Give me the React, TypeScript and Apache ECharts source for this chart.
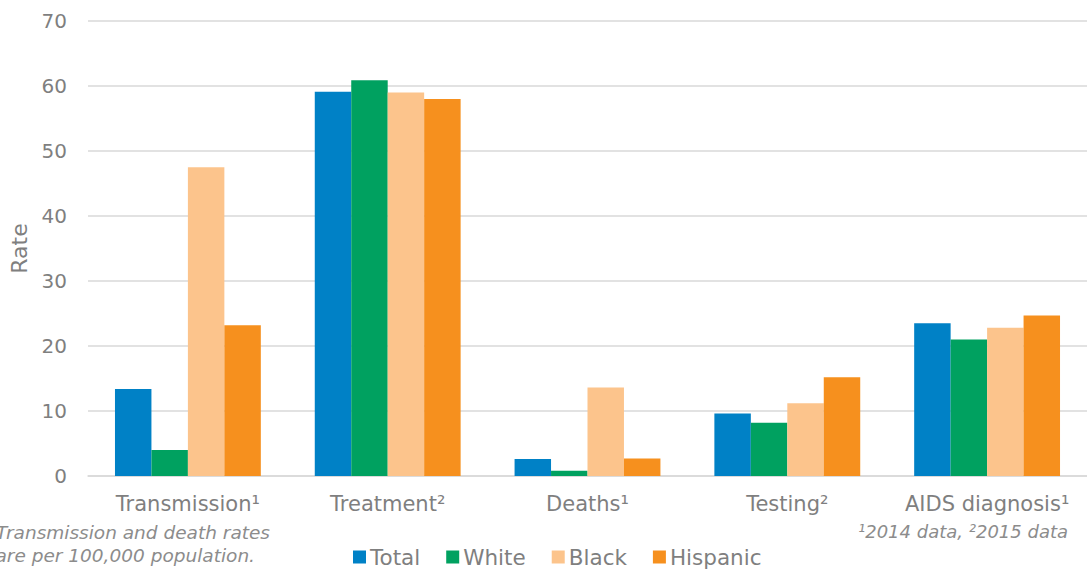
import React, { useEffect, useRef } from "react";
import * as echarts from "echarts";

const categories = ["Transmission¹", "Treatment²", "Deaths¹", "Testing²", "AIDS diagnosis¹"];
const seriesNames = ["Total", "White", "Black", "Hispanic"];
const totalValues = [13.4, 59.1, 2.6, 9.6, 23.5];
const whiteValues = [4.0, 60.9, 0.8, 8.2, 21.0];
const blackValues = [47.5, 59.0, 13.6, 11.2, 22.8];
const hispanicValues = [23.2, 58.0, 2.7, 15.2, 24.7];
const colors = ["#0081C6", "#00A160", "#FCC48C", "#F6901E"];
const yTicks = { min: 0, max: 70, interval: 10 };
const footLeft = ["Transmission and death rates", "are per 100,000 population."];
const footRight = "¹2014 data, ²2015 data";

const FONT = "DejaVu Sans";
const GREY = "#7f7f7f";

export default function App() {
  const ref = useRef<HTMLDivElement>(null);
  useEffect(() => {
    if (!ref.current) return;
    const chart = echarts.init(ref.current, null, { renderer: "svg" });
    const values = [totalValues, whiteValues, blackValues, hispanicValues];
    chart.setOption({
      animation: false,
      textStyle: { fontFamily: FONT },
      grid: { left: 88, right: 0, top: 21, bottom: 96, containLabel: false },
      legend: {
        data: seriesNames,
        top: 541,
        left: 348,
        itemWidth: 13,
        itemHeight: 13,
        itemGap: 26,
        icon: "rect",
        textStyle: { fontSize: 21.5, color: GREY, fontFamily: FONT, padding: [0, 0, 0, -1] },
      },
      xAxis: {
        type: "category",
        data: categories,
        axisLine: { lineStyle: { color: "#d9d9d9", width: 1.5 } },
        axisTick: { show: false },
        axisLabel: { fontSize: 21, color: GREY, margin: 17, fontFamily: FONT, interval: 0 },
      },
      yAxis: {
        type: "value",
        min: yTicks.min,
        max: yTicks.max,
        interval: yTicks.interval,
        name: "Rate",
        nameLocation: "middle",
        nameRotate: 90,
        nameGap: 58,
        nameTextStyle: { fontSize: 22, color: GREY, fontFamily: FONT },
        axisLabel: { fontSize: 20, color: GREY, margin: 21, fontFamily: FONT },
        axisLine: { show: false },
        axisTick: { show: false },
        splitLine: { lineStyle: { color: "#d9d9d9", width: 1.5 } },
      },
      series: seriesNames.map((name, i) => ({
        name,
        type: "bar",
        data: values[i],
        barGap: "0%",
        barCategoryGap: "27%",
        itemStyle: { color: colors[i] },
      })),
      graphic: [
        {
          type: "text",
          right: 1087 - 270,
          top: 523,
          style: { text: footLeft[0], font: `italic 18.5px "${FONT}"`, fill: "#8c8c8c" },
        },
        {
          type: "text",
          right: 1087 - 255,
          top: 546,
          style: { text: footLeft[1], font: `italic 18.5px "${FONT}"`, fill: "#8c8c8c" },
        },
        {
          type: "text",
          right: 19,
          top: 522,
          style: { text: footRight, font: `italic 18px "${FONT}"`, fill: "#8c8c8c" },
        },
      ],
    });
    return () => chart.dispose();
  }, []);
  return <div ref={ref} style={{ width: 1087, height: 572, position: "absolute", left: 0, top: 0 }} />;
}
